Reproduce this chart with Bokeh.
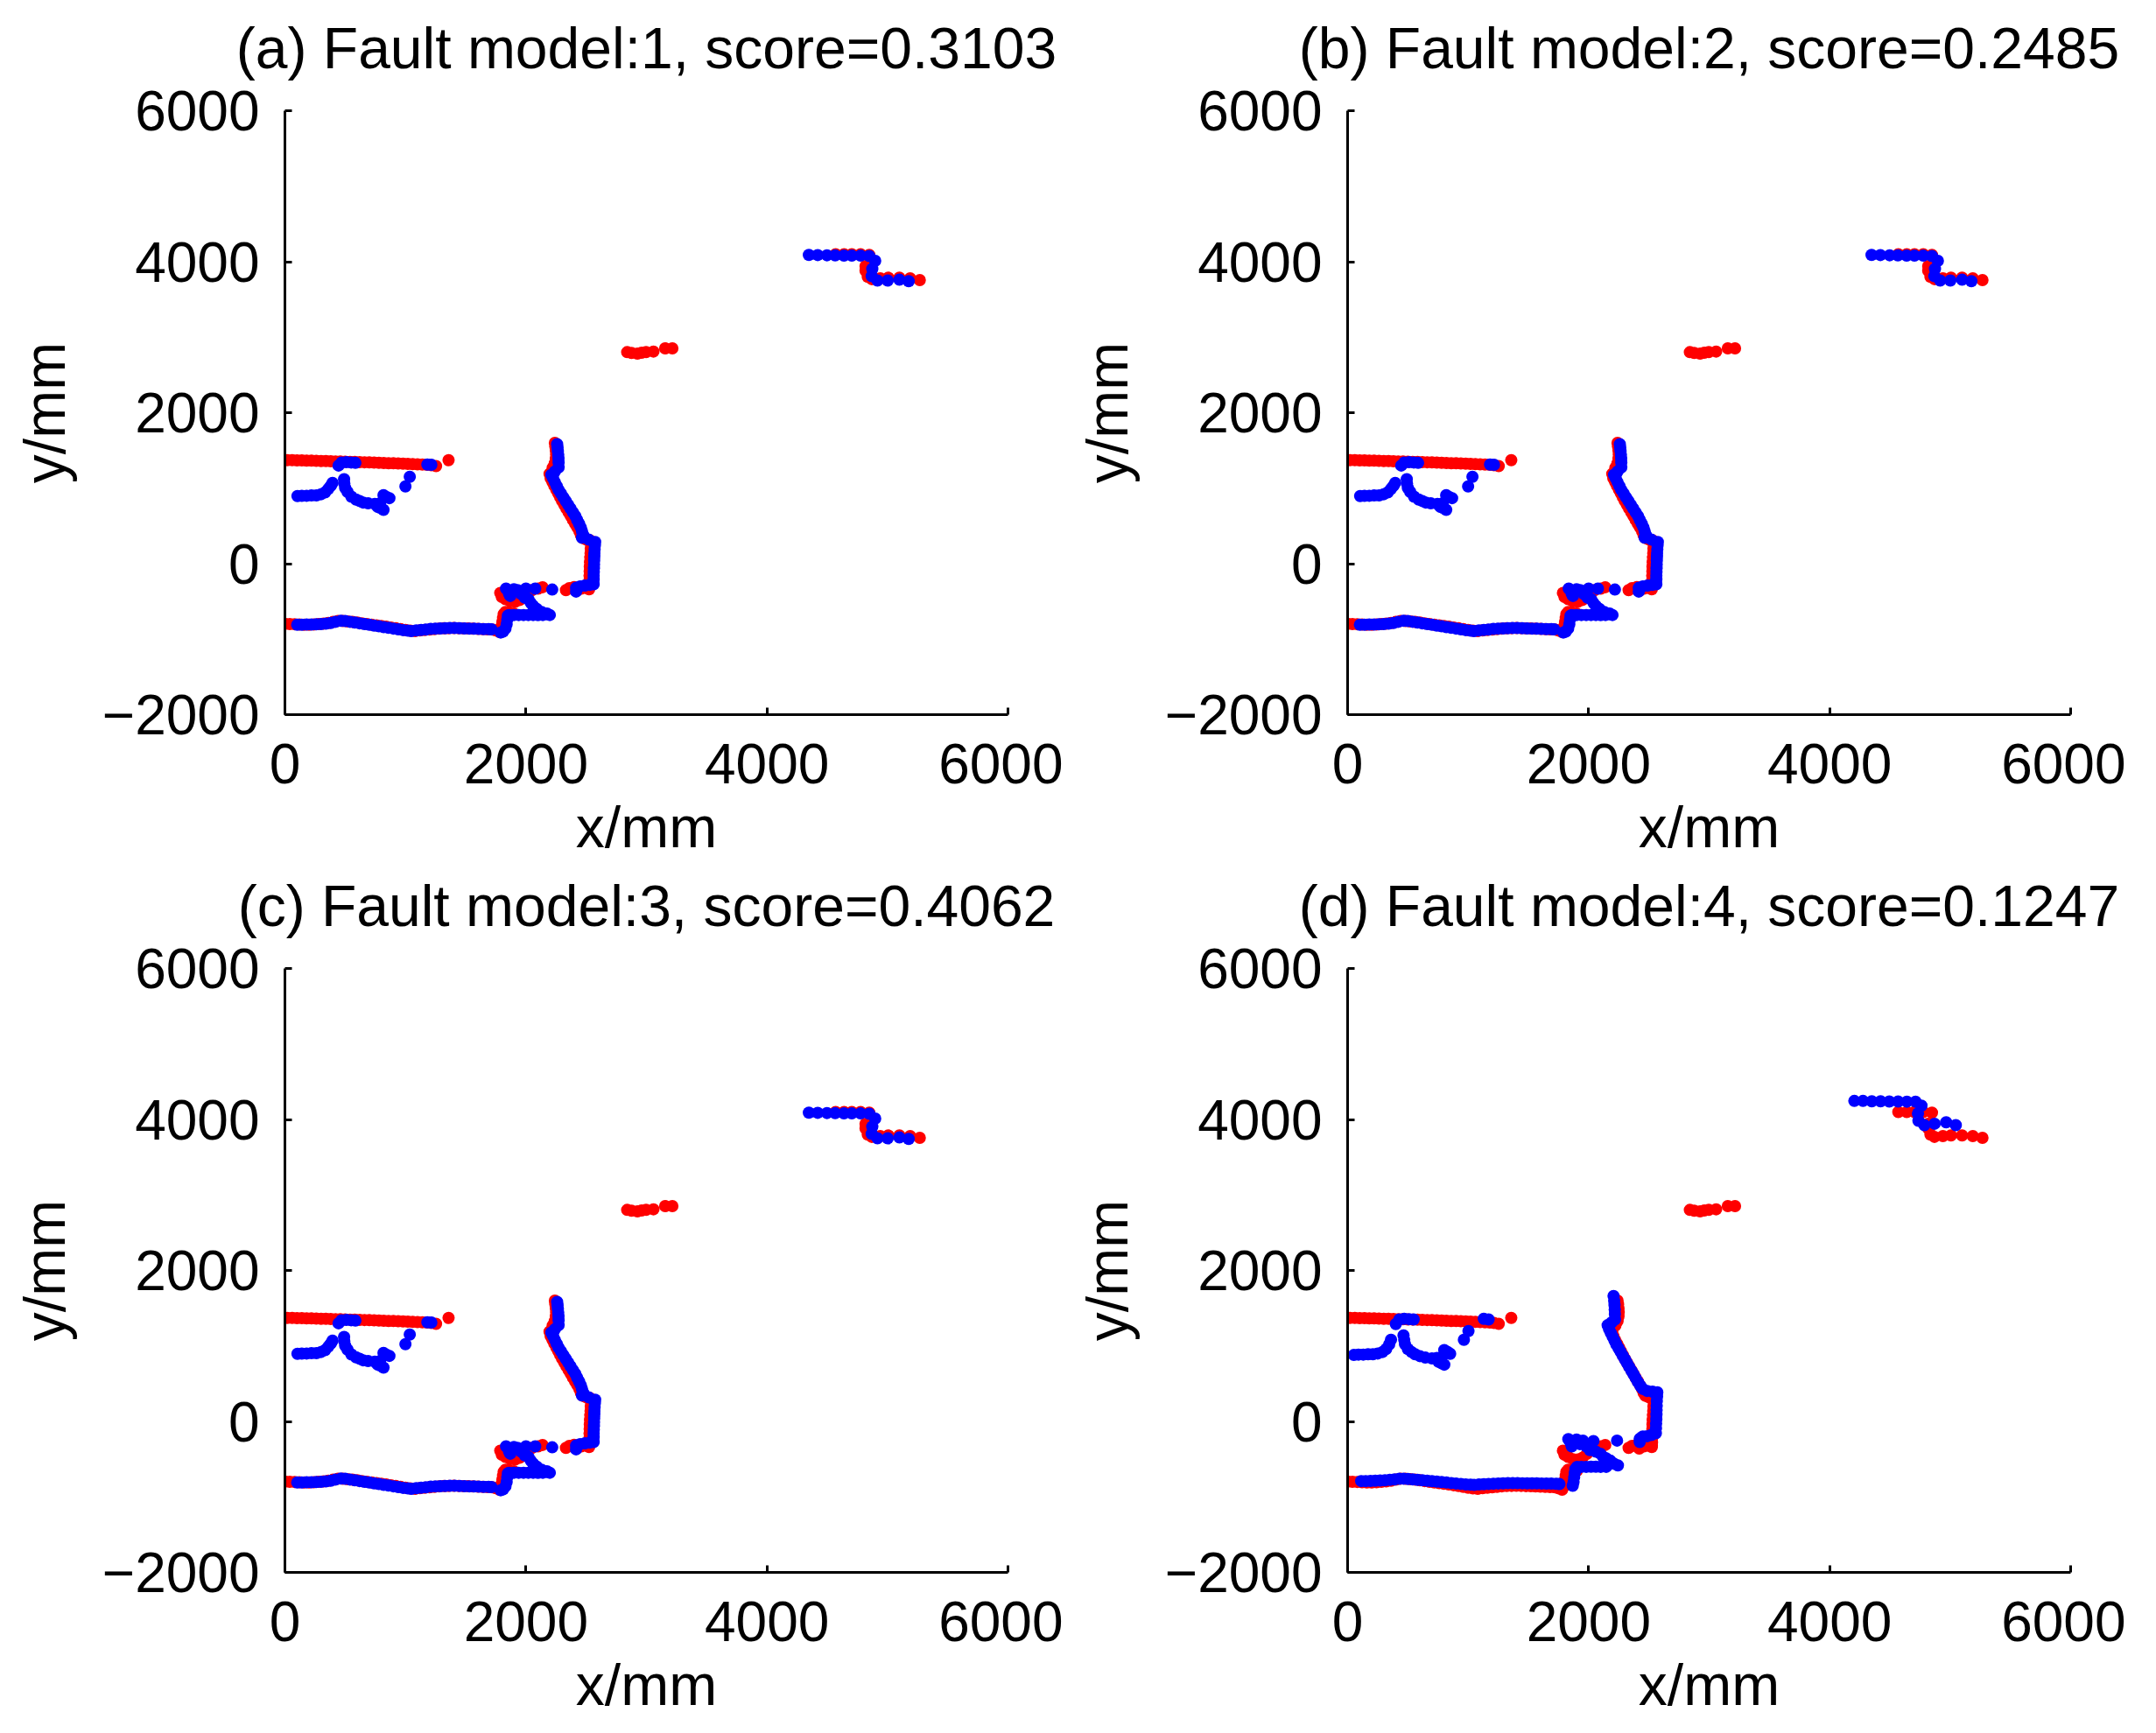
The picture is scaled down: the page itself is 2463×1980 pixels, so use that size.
from bokeh.plotting import figure
from bokeh.layouts import gridplot
from bokeh.models import Range1d, FixedTicker, LinearAxis
from bokeh.embed import file_html
from bokeh.resources import INLINE

FONT = "Liberation Sans"

titles = ["(a) Fault model:1, score=0.3103", "(b) Fault model:2, score=0.2485",
          "(c) Fault model:3, score=0.4062", "(d) Fault model:4, score=0.1247"]
x_ticks = [0, 2000, 4000, 6000]
y_ticks = [-2000, 0, 2000, 4000, 6000]
y_tick_labels = {-2000: "\u22122000", 0: "0", 2000: "2000", 4000: "4000", 6000: "6000"}
x_tick_labels = {0: "0", 2000: "2000", 4000: "4000", 6000: "6000"}

# ---------------- reference map (red), same in every panel ----------------
red_upper = [(20, 1370), (60, 1370), (100, 1368), (140, 1367), (180, 1365), (220, 1364), (260, 1362),
             (300, 1360), (340, 1359), (380, 1357), (420, 1355), (460, 1353), (500, 1351), (540, 1349),
             (580, 1347), (620, 1345), (660, 1343), (700, 1341), (740, 1338), (780, 1336), (820, 1334),
             (860, 1331), (900, 1329), (940, 1327), (980, 1324), (1020, 1322), (1060, 1319), (1100, 1316),
             (1140, 1313), (1180, 1310), (1215, 1303), (1254, 1293), (1358, 1371)]
red_lower = [(0, -797), (40, -800), (80, -802), (120, -806), (160, -808), (200, -808), (240, -805),
             (280, -800), (320, -795), (360, -786), (400, -772), (440, -758), (480, -760), (520, -766),
             (560, -772), (600, -780), (640, -790), (680, -800), (720, -808), (760, -818), (800, -826),
             (840, -834), (880, -845), (920, -855), (960, -866), (1000, -878), (1040, -888), (1080, -892),
             (1120, -885), (1160, -878), (1200, -872), (1240, -866), (1280, -860), (1320, -856),
             (1360, -854), (1400, -852), (1440, -854), (1480, -857), (1520, -859), (1560, -862),
             (1600, -864), (1640, -866), (1680, -869), (1720, -872), (1750, -885), (1780, -905)]
red_step = [(1790, -870), (1800, -820), (1805, -770), (1810, -720), (1815, -670), (1830, -640),
            (1860, -650), (1900, -660)]
red_cluster = [(1787, -389), (1800, -440), (1830, -470), (1870, -500), (1910, -505), (1950, -480),
               (1985, -430), (2010, -380), (2050, -350), (2101, -330), (2138, -312), (2332, -351),
               (2360, -325), (2400, -310)]
red_ridge = [(2240, 1600), (2244, 1550), (2248, 1500), (2250, 1450), (2248, 1390), (2240, 1330),
             (2222, 1270), (2196, 1190), (2205, 1130), (2220, 1080), (2236, 1030), (2252, 980),
             (2268, 930), (2284, 880), (2300, 830), (2318, 780), (2336, 730), (2354, 680), (2372, 630),
             (2390, 580), (2408, 530), (2426, 480), (2444, 430), (2456, 380), (2470, 340), (2500, 320),
             (2530, 310), (2540, 260), (2538, 200), (2536, 140), (2534, 80), (2532, 20), (2530, -40),
             (2529, -100), (2528, -160), (2527, -220), (2526, -280), (2525, -320), (2524, -340),
             (2500, -300), (2460, -330), (2420, -360)]
red_far = [(2840, 2802), (2876, 2790), (2925, 2782), (2960, 2795), (2997, 2802), (3058, 2810),
           (3155, 2852), (3215, 2852),
           (4570, 4098), (4640, 4098), (4704, 4098), (4777, 4098), (4849, 4090), (4818, 3943),
           (4818, 3880), (4837, 3800), (4870, 3769), (4940, 3780), (5007, 3788), (5099, 3788),
           (5188, 3780), (5268, 3757)]

# ---------------- model results (blue) ----------------
blue_a = {
    "upper": [(445, 1300), (470, 1340), (510, 1345), (550, 1340), (585, 1335), (1182, 1313), (1215, 1310)],
    "arc1": [(104, 895), (140, 898), (180, 900), (220, 903), (261, 905), (300, 920), (334, 945),
             (360, 990), (380, 1030), (395, 1069)],
    "arc2": [(491, 1119), (493, 1060), (500, 1003), (520, 950), (552, 887), (590, 850), (620, 830),
             (649, 810), (690, 800), (746, 791), (790, 800), (818, 907), (845, 880), (867, 868),
             (818, 713), (790, 740), (770, 752), (1036, 1150), (1000, 1023)],
    "lower": [(102, -810), (140, -808), (180, -806), (220, -805), (260, -803), (300, -800), (340, -795),
              (380, -785), (420, -770), (465, -756), (500, -760), (540, -770), (580, -780), (620, -790),
              (660, -800), (700, -810), (740, -820), (780, -830), (820, -840), (860, -850), (900, -860),
              (940, -870), (980, -880), (1020, -888), (1049, -892), (1090, -885), (1130, -878),
              (1170, -872), (1210, -865), (1250, -860), (1290, -858), (1330, -855), (1370, -852),
              (1410, -853), (1450, -856), (1490, -858), (1530, -860), (1570, -862), (1610, -864),
              (1650, -866), (1690, -868), (1714, -870)],
    "step": [(1790, -912), (1811, -900), (1830, -860), (1840, -800), (1845, -740), (1850, -690),
             (1860, -680), (1900, -680), (1940, -680), (1980, -680), (2020, -680), (2060, -680),
             (2100, -682), (2140, -680), (2175, -670), (2198, -680)],
    "cluster": [(1835, -331), (1860, -400), (1870, -428), (1900, -340), (1930, -350), (1960, -400),
                (1990, -450), (2000, -330), (2020, -470), (2040, -520), (2060, -560), (2077, -331),
                (2090, -600), (2130, -640), (2174, -660), (2218, -343)],
    "ridge": [(2259, 1583), (2262, 1540), (2265, 1490), (2268, 1440), (2270, 1390), (2271, 1340),
              (2271, 1274), (2240, 1220), (2211, 1177), (2225, 1130), (2240, 1080), (2255, 1030),
              (2270, 980), (2290, 930), (2310, 880), (2330, 830), (2350, 780), (2370, 730),
              (2390, 680), (2410, 630), (2425, 580), (2440, 530), (2455, 480), (2465, 430),
              (2475, 380), (2465, 345), (2520, 320), (2574, 287), (2572, 240), (2570, 190),
              (2568, 140), (2567, 90), (2566, 40), (2565, -10), (2564, -60), (2563, -110),
              (2562, -160), (2562, -210), (2562, -273), (2530, -280), (2490, -290), (2450, -300),
              (2416, -320), (2416, -370)],
    "far": [(4348, 4090), (4421, 4088), (4498, 4085), (4566, 4083), (4639, 4082), (4704, 4080),
            (4777, 4080), (4849, 4075), (4898, 4012), (4874, 3904), (4869, 3808), (4917, 3750),
            (5002, 3750), (5099, 3761), (5176, 3742)],
}
blue_b = blue_a
blue_c = blue_a
blue_d = {
    "upper": [(400, 1290), (430, 1350), (470, 1360), (510, 1355), (548, 1351), (1130, 1360), (1170, 1350)],
    "arc1": [(52, 880), (90, 885), (130, 885), (170, 890), (210, 890), (250, 900), (290, 920),
             (320, 960), (345, 1020), (360, 1081)],
    "arc2": [(464, 1139), (470, 1080), (476, 1023), (500, 960), (530, 920), (560, 890), (600, 865),
             (645, 845), (700, 835), (742, 840), (780, 850), (802, 945), (830, 920), (851, 895),
             (802, 752), (780, 770), (754, 791), (1003, 1197), (965, 1081)],
    "lower": [(113, -790), (150, -790), (190, -788), (230, -786), (270, -784), (310, -780), (350, -775),
              (390, -768), (430, -760), (465, -758), (500, -762), (540, -768), (580, -774), (620, -780),
              (660, -786), (700, -792), (740, -798), (780, -804), (820, -810), (860, -816), (900, -822),
              (940, -828), (980, -834), (1020, -838), (1050, -840), (1090, -836), (1130, -832),
              (1170, -828), (1210, -825), (1250, -822), (1290, -820), (1330, -818), (1370, -817),
              (1410, -818), (1450, -819), (1490, -820), (1530, -820), (1570, -821), (1610, -822),
              (1650, -823), (1690, -824), (1730, -826), (1758, -830)],
    "step": [(1868, -853), (1875, -800), (1880, -740), (1885, -680), (1890, -630), (1904, -602),
             (1940, -602), (1980, -602), (2020, -600), (2060, -600), (2100, -602), (2146, -602)],
    "cluster": [(1832, -235), (1850, -280), (1860, -330), (1900, -240), (1928, -300), (1953, -254),
                (1980, -330), (2010, -380), (2040, -260), (2060, -400), (2098, -428), (2120, -470),
                (2146, -490), (2180, -520), (2210, -560), (2243, -583), (2236, -254)],
    "ridge": [(2207, 1661), (2212, 1600), (2215, 1540), (2217, 1480), (2218, 1420), (2219, 1351),
              (2190, 1310), (2158, 1274), (2170, 1220), (2185, 1170), (2200, 1120), (2215, 1070),
              (2230, 1020), (2248, 970), (2266, 920), (2284, 870), (2302, 820), (2320, 770),
              (2338, 720), (2356, 670), (2374, 620), (2392, 570), (2410, 520), (2430, 470),
              (2450, 430), (2485, 404), (2530, 395), (2570, 385), (2568, 330), (2566, 270),
              (2565, 210), (2564, 150), (2563, 90), (2562, 30), (2560, -30), (2559, -90),
              (2558, -157), (2520, -180), (2485, -196), (2450, -200), (2424, -230), (2424, -273)],
    "far": [(4205, 4245), (4277, 4245), (4350, 4240), (4423, 4240), (4495, 4238), (4568, 4238),
            (4641, 4236), (4713, 4236), (4762, 4183), (4733, 4078), (4737, 3982), (4786, 3924),
            (4871, 3943), (4967, 3962), (5047, 3924)],
}

red_all = red_upper + red_lower + red_step + red_cluster + red_ridge + red_far

FRAME_W, FRAME_H = 826, 690


def make_panel(title, blue, top_border):
    p = figure(frame_width=FRAME_W, frame_height=FRAME_H,
               x_range=Range1d(0, 6000), y_range=Range1d(-2000, 6000),
               output_backend="svg", toolbar_location=None,
               min_border_left=325, min_border_right=63, min_border_top=top_border,
               min_border_bottom=168)
    p.outline_line_color = None
    p.xgrid.visible = False
    p.ygrid.visible = False
    p.background_fill_color = "white"
    p.border_fill_color = "white"

    xa = p.below[0]
    ya = p.left[0]
    for ax in (xa, ya):
        ax.axis_line_width = 3
        ax.axis_line_color = "black"
        ax.major_tick_line_width = 3
        ax.major_tick_line_color = "black"
        ax.major_tick_in = 8
        ax.major_tick_out = 0
        ax.minor_tick_line_color = None
        ax.major_label_text_font = FONT
        ax.major_label_text_font_size = "64px"
        ax.major_label_text_color = "black"
        ax.axis_label_text_font = FONT
        ax.axis_label_text_font_size = "66px"
        ax.axis_label_text_font_style = "normal"
        ax.axis_label_text_color = "black"

    xa.ticker = FixedTicker(ticks=x_ticks)
    ya.ticker = FixedTicker(ticks=y_ticks)
    xa.major_label_overrides = x_tick_labels
    ya.major_label_overrides = y_tick_labels
    xa.axis_label = "x/mm"
    ya.axis_label = "y/mm"
    xa.major_label_standoff = 33
    ya.major_label_standoff = 29
    xa.axis_label_standoff = 10
    ya.axis_label_standoff = 26

    # panel title: carried by a bare axis above the frame (no line, ticks or tick labels)
    top_axis = LinearAxis(ticker=FixedTicker(ticks=[]), axis_label=title,
                          axis_line_color=None, major_tick_line_color=None,
                          minor_tick_line_color=None, major_tick_out=0, minor_tick_out=0,
                          major_tick_in=0, minor_tick_in=0,
                          major_label_standoff=0, axis_label_standoff=35,
                          axis_label_text_font=FONT, axis_label_text_font_size="66px",
                          axis_label_text_font_style="normal", axis_label_text_color="black")
    p.add_layout(top_axis, "above")

    rx = [pt[0] for pt in red_all]
    ry = [pt[1] for pt in red_all]
    p.scatter(rx, ry, size=14, color="#ff0000", line_color=None)
    pts = []
    for seg in ("upper", "arc1", "arc2", "lower", "step", "cluster", "ridge", "far"):
        pts += blue[seg]
    p.scatter([q[0] for q in pts], [q[1] for q in pts], size=14, color="#0000ff", line_color=None)
    return p


panels = [make_panel(titles[0], blue_a, 126), make_panel(titles[1], blue_b, 126),
          make_panel(titles[2], blue_c, 122), make_panel(titles[3], blue_d, 122)]
grid = gridplot([[panels[0], panels[1]], [panels[2], panels[3]]], toolbar_location=None)

open("out.html", "w").write(file_html(grid, INLINE))
